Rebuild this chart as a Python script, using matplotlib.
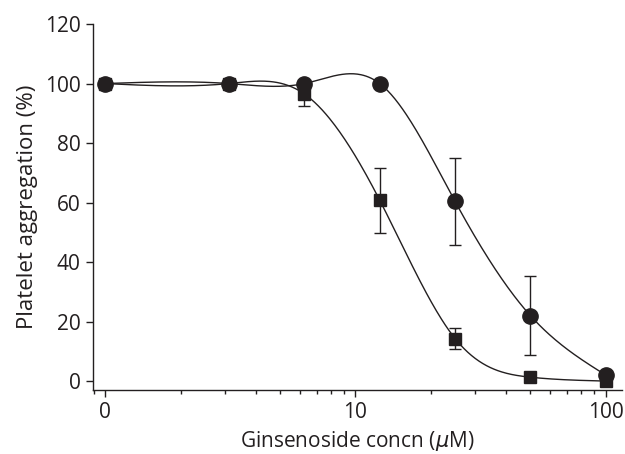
import matplotlib
matplotlib.use("Agg")
import matplotlib.pyplot as plt
import numpy as np
from matplotlib.ticker import FixedLocator, LogLocator, NullFormatter

plt.rcParams["font.family"] = ["Open Sans", "DejaVu Sans"]

# concentrations (uM); the "0" dose is drawn at 1 on the log axis
conc = [1, 3.125, 6.25, 12.5, 25, 50, 100]
conc_labels = ["0", "10", "100"]

circle_vals = [100, 100, 100, 100, 60.4, 22.0, 2.0]
circle_err = [0, 0, 0, 0, 14.6, 13.3, 0]

square_vals = [100, 100, 96.5, 60.8, 14.3, 1.3, 0.0]
square_err = [0, 0, 4.0, 10.9, 3.5, 0, 0]

INK = "#231f20"


def natural_spline(x, y, xs):
    """natural cubic spline through (x, y), evaluated at xs"""
    x = np.asarray(x, float)
    y = np.asarray(y, float)
    n = len(x)
    h = np.diff(x)
    A = np.zeros((n, n))
    b = np.zeros(n)
    A[0, 0] = 1.0
    A[-1, -1] = 1.0
    for i in range(1, n - 1):
        A[i, i - 1] = h[i - 1]
        A[i, i] = 2 * (h[i - 1] + h[i])
        A[i, i + 1] = h[i]
        b[i] = 3 * ((y[i + 1] - y[i]) / h[i] - (y[i] - y[i - 1]) / h[i - 1])
    c = np.linalg.solve(A, b)
    out = np.empty_like(xs)
    for k, xv in enumerate(xs):
        i = min(max(np.searchsorted(x, xv) - 1, 0), n - 2)
        dx = xv - x[i]
        bi = (y[i + 1] - y[i]) / h[i] - h[i] * (2 * c[i] + c[i + 1]) / 3
        di = (c[i + 1] - c[i]) / (3 * h[i])
        out[k] = y[i] + bi * dx + c[i] * dx ** 2 + di * dx ** 3
    return out


fig = plt.figure(figsize=(6.25, 4.54), dpi=100)
ax = fig.add_axes([0.149, 0.141, 0.846, 0.806])

lx = np.log10(conc)
xs = np.linspace(lx[0], lx[-1], 400)
for vals in (circle_vals, square_vals):
    ax.plot(10 ** xs, natural_spline(lx, vals, xs), color=INK, lw=1.0, zorder=2)

ax.errorbar(conc, square_vals, yerr=[[e if e else np.nan for e in square_err]] * 2,
            fmt="none", ecolor=INK, elinewidth=1.0, capsize=4, capthick=1.0, zorder=3)
ax.errorbar(conc, circle_vals, yerr=[[e if e else np.nan for e in circle_err]] * 2,
            fmt="none", ecolor=INK, elinewidth=1.0, capsize=4, capthick=1.0, zorder=3)
ax.plot(conc, square_vals, "s", color=INK, ms=8.5, zorder=4, ls="none")
ax.plot(conc, circle_vals, "o", color=INK, ms=11, zorder=5, ls="none")

ax.set_xscale("log")
ax.set_xlim(0.895, 116)
ax.set_ylim(-3, 120)
ax.xaxis.set_major_locator(FixedLocator([1, 10, 100]))
ax.set_xticklabels(conc_labels)
ax.xaxis.set_minor_locator(LogLocator(base=10, subs=np.arange(2, 10)))
ax.xaxis.set_minor_formatter(NullFormatter())
ax.set_yticks(np.arange(0, 121, 20))

for s in ("top", "right"):
    ax.spines[s].set_visible(False)
for s in ("left", "bottom"):
    ax.spines[s].set_color(INK)
    ax.spines[s].set_linewidth(1.0)
ax.spines["left"].set_bounds(-3, 120)

ax.tick_params(axis="both", which="major", direction="out", length=5, width=1.0,
               colors=INK, labelsize=15, pad=4)
ax.tick_params(axis="x", which="minor", direction="out", length=3, width=1.0, colors=INK)

ax.set_xlabel("Ginsenoside concn ($\\mu$M)", fontsize=15, color=INK, labelpad=4)
ax.set_ylabel("Platelet aggregation (%)", fontsize=16, color=INK, labelpad=5)

fig.savefig("out.png", dpi=100)
